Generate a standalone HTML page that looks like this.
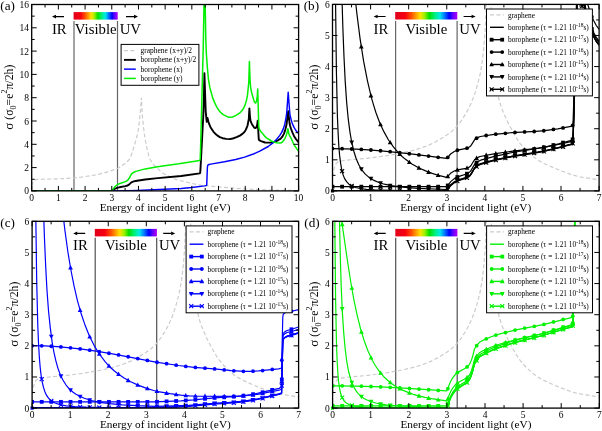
<!DOCTYPE html><html><head><meta charset="utf-8"><style>html,body{margin:0;padding:0;background:#fff;overflow:hidden}svg{display:block;will-change:transform}</style></head><body><svg width="602" height="431" viewBox="0 0 602 431"><defs><linearGradient id="rb" x1="0" x2="1" y1="0" y2="0"><stop offset="0" stop-color="#e0001c"/><stop offset="0.16" stop-color="#f80010"/><stop offset="0.26" stop-color="#ff5000"/><stop offset="0.4" stop-color="#ffe000"/><stop offset="0.47" stop-color="#a0f000"/><stop offset="0.55" stop-color="#00e000"/><stop offset="0.64" stop-color="#00f080"/><stop offset="0.72" stop-color="#00e8e8"/><stop offset="0.8" stop-color="#0070ff"/><stop offset="0.87" stop-color="#0000ff"/><stop offset="0.94" stop-color="#7000ff"/><stop offset="1" stop-color="#b000f0"/></linearGradient><clipPath id="ca"><rect x="31.70" y="4.50" width="266.90" height="186.40"/></clipPath><clipPath id="cb"><rect x="332.50" y="4.40" width="266.60" height="186.50"/></clipPath><clipPath id="cc"><rect x="32.10" y="221.30" width="266.50" height="186.80"/></clipPath><clipPath id="cd"><rect x="332.60" y="221.30" width="266.70" height="186.80"/></clipPath></defs><rect x="73.60" y="12.10" width="44.10" height="7.5" fill="url(#rb)"/><path d="M74.00,21.00V190.90M117.50,21.00V190.90" stroke="#666" stroke-width="1.2" fill="none"/><g style="font-family:'Liberation Serif',serif;font-size:14.8px" fill="#000"><text x="66.70" y="33.60" text-anchor="end">IR</text><text x="95.75" y="33.60" text-anchor="middle">Visible</text><text x="119.70" y="33.60" text-anchor="start">UV</text></g><path d="M55.50,16.60H64.00M126.00,16.60H134.50" stroke="#000" stroke-width="1.1"/><path d="M52.00,16.60l4,-1.8v3.6zM138.00,16.60l-4,-1.8v3.6z" fill="#000"/><g clip-path="url(#ca)"><path d="M31.7,185.7L33.5,181.1L34.5,180.1L35.8,179.7L39.9,179.3L61.7,178.7L74.7,177.9L81.6,177.1L95.5,174.9L104.3,172.9L110.8,170.9L115.0,169.4L117.7,168.3L119.9,167.1L125.9,162.9L128.8,160.0L129.8,158.5L130.7,156.7L132.1,152.8L134.9,143.6L136.9,136.5L138.3,129.6L139.4,121.3L140.4,111.5L141.4,97.7L142.3,114.9L143.7,128.9L144.7,136.4L146.1,144.3L147.5,150.7L148.7,155.4L149.7,158.4L150.7,160.4L151.9,162.4L153.9,164.9L156.4,167.5L160.1,170.9L162.5,172.8L165.1,174.4L171.4,177.6L177.6,180.0L197.4,184.7L201.4,185.4L235.8,188.3L250.2,189.2L270.2,190.0L298.6,190.6" stroke="#cccccc" stroke-width="1.2" stroke-dasharray="4 2.4" fill="none"/><path d="M31.7,190.9L111.6,190.9L114.5,189.0L117.0,187.9L119.3,187.3L125.4,186.1L127.6,185.5L129.0,184.6L131.4,182.4L133.8,181.4L135.5,181.0L145.2,179.5L157.7,178.1L181.2,176.0L199.7,173.4L200.2,172.7L200.5,168.6L203.2,117.5L203.9,98.1L204.4,73.1L205.7,111.3L206.7,121.9L207.5,117.9L208.9,123.4L210.5,127.2L213.5,131.8L215.3,133.7L217.2,135.4L219.8,137.1L222.7,138.2L226.2,138.9L229.6,139.1L232.8,138.5L236.6,137.2L239.9,135.6L242.4,133.9L244.2,132.2L245.6,130.2L246.6,128.0L247.6,125.3L248.8,118.9L249.4,108.4L250.0,117.1L250.6,121.1L251.8,123.9L254.0,127.3L254.5,127.8L255.4,128.1L255.8,127.9L256.4,127.1L257.2,124.8L257.7,120.6L258.7,138.3L258.8,139.5L259.2,140.1L261.0,141.1L265.0,142.5L266.0,142.6L271.4,142.5L275.0,141.7L278.0,140.3L280.7,138.6L282.3,136.7L284.0,133.6L285.3,129.6L286.5,124.8L288.2,111.3L289.6,123.3L290.1,125.7L291.1,129.0L292.7,133.2L294.1,136.2L296.4,139.7L298.6,142.4" stroke="#000" stroke-width="1.9" fill="none" stroke-linejoin="round"/><path d="M31.7,190.9L117.4,190.9L137.5,190.4L181.2,188.5L191.7,187.5L204.6,185.9L206.7,185.4L207.4,167.2L207.8,165.2L209.1,164.5L210.7,164.1L224.5,161.8L235.7,159.5L244.6,157.1L252.6,154.3L259.8,151.2L268.2,146.5L272.9,142.9L276.9,139.0L279.8,135.4L281.7,132.4L283.5,128.4L284.7,124.4L285.8,119.1L286.7,113.1L288.2,92.2L289.7,112.3L290.1,115.2L291.1,119.6L292.4,123.9L294.3,127.9L296.5,131.3L298.6,133.5" stroke="#0000ff" stroke-width="1.45" fill="none" stroke-linejoin="round"/><path d="M31.7,190.9L111.6,190.9L112.2,190.4L114.5,187.1L117.1,184.8L119.3,183.7L125.4,181.6L127.6,180.3L129.0,178.6L131.4,174.2L133.9,172.2L135.8,171.4L145.2,168.9L157.5,166.7L178.9,163.8L199.7,160.4L200.2,158.9L200.5,150.9L203.2,48.9L203.9,10.3L204.4,-39.8L205.8,39.6L206.3,52.8L207.3,66.9L208.5,79.8L209.9,87.7L212.7,97.9L214.1,101.4L215.8,105.2L217.1,107.6L218.7,110.0L220.0,111.7L221.5,113.2L223.2,114.6L225.2,115.7L227.2,116.7L229.3,117.3L230.5,117.3L232.5,117.0L236.0,115.4L239.5,113.1L240.9,111.8L242.1,110.5L244.0,107.5L245.4,104.1L246.5,100.3L247.5,95.0L248.8,82.1L249.4,61.4L250.0,79.0L250.6,87.1L251.6,92.5L254.0,100.8L254.5,102.0L255.4,103.0L255.8,102.8L256.4,101.4L257.2,97.2L257.7,89.1L258.8,126.6L259.0,128.0L259.4,129.4L260.8,131.5L263.2,134.2L265.0,136.6L266.8,138.1L271.5,141.0L273.6,141.9L276.6,142.8L280.3,143.1L281.3,142.8L282.5,141.8L283.8,140.3L285.0,138.3L286.7,134.2L287.9,128.7L288.7,133.1L289.3,135.2L291.1,138.1L294.0,144.8L298.6,151.4" stroke="#00f000" stroke-width="1.5" fill="none" stroke-linejoin="round"/></g><rect x="121.1" y="44.4" width="77.80" height="40.90" fill="#fff" stroke="#000" stroke-width="1"/><path d="M124,50.60H135.8" stroke="#cccccc" stroke-width="1.2" stroke-dasharray="4 2.4"/><text x="140.6" y="53.20" style="font-family:'Liberation Serif',serif;font-size:7.45px">graphene (x+y)/2</text><path d="M124,59.87H135.8" stroke="#000" stroke-width="1.9"/><text x="140.6" y="62.47" style="font-family:'Liberation Serif',serif;font-size:7.45px">borophene (x+y)/2</text><path d="M124,69.14H135.8" stroke="#0000ff" stroke-width="1.45"/><text x="140.6" y="71.74" style="font-family:'Liberation Serif',serif;font-size:7.45px">borophene (x)</text><path d="M124,78.41H135.8" stroke="#00f000" stroke-width="1.5"/><text x="140.6" y="81.01" style="font-family:'Liberation Serif',serif;font-size:7.45px">borophene (y)</text><path d="M31.70,190.90v-5.0M31.70,4.50v5.0M45.05,190.90v-3.0M45.05,4.50v3.0M58.39,190.90v-5.0M58.39,4.50v5.0M71.73,190.90v-3.0M71.73,4.50v3.0M85.08,190.90v-5.0M85.08,4.50v5.0M98.43,190.90v-3.0M98.43,4.50v3.0M111.77,190.90v-5.0M111.77,4.50v5.0M125.12,190.90v-3.0M125.12,4.50v3.0M138.46,190.90v-5.0M138.46,4.50v5.0M151.81,190.90v-3.0M151.81,4.50v3.0M165.15,190.90v-5.0M165.15,4.50v5.0M178.50,190.90v-3.0M178.50,4.50v3.0M191.84,190.90v-5.0M191.84,4.50v5.0M205.19,190.90v-3.0M205.19,4.50v3.0M218.53,190.90v-5.0M218.53,4.50v5.0M231.88,190.90v-3.0M231.88,4.50v3.0M245.22,190.90v-5.0M245.22,4.50v5.0M258.56,190.90v-3.0M258.56,4.50v3.0M271.91,190.90v-5.0M271.91,4.50v5.0M285.25,190.90v-3.0M285.25,4.50v3.0M298.60,190.90v-5.0M298.60,4.50v5.0M31.70,190.90h5.0M298.60,190.90h-5.0M31.70,179.25h3.0M298.60,179.25h-3.0M31.70,167.60h5.0M298.60,167.60h-5.0M31.70,155.95h3.0M298.60,155.95h-3.0M31.70,144.30h5.0M298.60,144.30h-5.0M31.70,132.65h3.0M298.60,132.65h-3.0M31.70,121.00h5.0M298.60,121.00h-5.0M31.70,109.35h3.0M298.60,109.35h-3.0M31.70,97.70h5.0M298.60,97.70h-5.0M31.70,86.05h3.0M298.60,86.05h-3.0M31.70,74.40h5.0M298.60,74.40h-5.0M31.70,62.75h3.0M298.60,62.75h-3.0M31.70,51.10h5.0M298.60,51.10h-5.0M31.70,39.45h3.0M298.60,39.45h-3.0M31.70,27.80h5.0M298.60,27.80h-5.0M31.70,16.15h3.0M298.60,16.15h-3.0M31.70,4.50h5.0M298.60,4.50h-5.0" stroke="#000" stroke-width="1" fill="none"/><rect x="31.70" y="4.50" width="266.90" height="186.40" fill="none" stroke="#000" stroke-width="1.3"/><g style="font-family:'Liberation Serif',serif;font-size:9.5px" fill="#000"><text x="31.70" y="200.70" text-anchor="middle">0</text><text x="58.39" y="200.70" text-anchor="middle">1</text><text x="85.08" y="200.70" text-anchor="middle">2</text><text x="111.77" y="200.70" text-anchor="middle">3</text><text x="138.46" y="200.70" text-anchor="middle">4</text><text x="165.15" y="200.70" text-anchor="middle">5</text><text x="191.84" y="200.70" text-anchor="middle">6</text><text x="218.53" y="200.70" text-anchor="middle">7</text><text x="245.22" y="200.70" text-anchor="middle">8</text><text x="271.91" y="200.70" text-anchor="middle">9</text><text x="298.60" y="200.70" text-anchor="middle">10</text><text x="28.90" y="194.40" text-anchor="end">0</text><text x="28.90" y="171.10" text-anchor="end">2</text><text x="28.90" y="147.80" text-anchor="end">4</text><text x="28.90" y="124.50" text-anchor="end">6</text><text x="28.90" y="101.20" text-anchor="end">8</text><text x="28.90" y="77.90" text-anchor="end">10</text><text x="28.90" y="54.60" text-anchor="end">12</text><text x="28.90" y="31.30" text-anchor="end">14</text><text x="28.90" y="8.00" text-anchor="end">16</text></g><text x="165.15" y="210.80" text-anchor="middle" style="font-family:'Liberation Serif',serif;font-size:11.3px">Energy of incident light (eV)</text><text transform="translate(13.10,97.20) rotate(-90)" text-anchor="middle" style="font-family:'Liberation Serif',serif;font-size:11.8px"><tspan font-size="13px">σ</tspan> (σ<tspan dy="3" font-size="8px">0</tspan><tspan dy="-3">=e</tspan><tspan dy="-6" font-size="8px">2</tspan><tspan dy="6">π/2h)</tspan></text><text x="0.3" y="10.2" style="font-family:'Liberation Serif',serif;font-size:13.2px">(a)</text><rect x="395.20" y="12.00" width="62.10" height="7.5" fill="url(#rb)"/><path d="M395.60,20.90V190.90M457.10,20.90V190.90" stroke="#666" stroke-width="1.2" fill="none"/><g style="font-family:'Liberation Serif',serif;font-size:14.8px" fill="#000"><text x="388.30" y="33.50" text-anchor="end">IR</text><text x="426.35" y="33.50" text-anchor="middle">Visible</text><text x="459.30" y="33.50" text-anchor="start">UV</text></g><path d="M377.10,16.50H385.60M463.60,16.50H472.10" stroke="#000" stroke-width="1.1"/><path d="M373.60,16.50l4,-1.8v3.6zM475.60,16.50l-4,-1.8v3.6z" fill="#000"/><g clip-path="url(#cb)"><path d="M332.5,176.8L333.7,170.3L335.1,165.6L336.3,163.3L337.2,162.4L338.0,161.9L341.0,161.0L345.6,160.2L367.4,158.3L378.7,156.8L389.4,155.2L399.4,153.4L409.0,151.4L414.6,150.0L420.4,148.2L427.9,145.4L433.0,143.2L439.1,139.8L446.4,135.3L451.4,131.6L455.8,127.7L458.5,124.6L461.5,120.4L465.4,114.3L468.5,108.7L471.3,102.7L473.9,96.4L476.3,89.0L478.6,80.4L480.4,72.8L481.8,64.4L483.7,49.0L485.2,29.6L489.1,-57.1L490.6,-8.2L492.0,26.3L493.6,53.8L495.4,75.8L497.1,89.5L498.1,95.2L499.0,99.5L500.5,104.7L502.1,109.2L506.9,120.4L509.9,126.4L515.0,135.6L517.9,140.4L520.4,143.9L524.2,148.4L528.4,152.5L533.5,156.8L538.2,160.2L544.1,163.5L554.2,168.0L562.2,171.2L572.0,174.8L576.1,175.9L581.3,177.1L599.1,179.9" stroke="#cccccc" stroke-width="1.2" stroke-dasharray="4 2.4" fill="none"/><path d="M332.5,190.5L446.5,190.5L447.4,189.7L450.7,185.4L454.3,182.4L457.6,180.7L466.3,177.8L469.4,176.1L470.3,175.2L471.4,173.6L474.7,167.9L478.2,165.2L480.7,164.0L494.5,160.1L512.4,156.3L537.4,152.2L545.9,150.6L558.6,147.5L572.3,143.8L572.8,142.4L573.1,139.0L574.4,98.3L577.4,-13.8L578.6,-88.8L579.6,-88.8L580.9,-19.0L581.5,-4.9L582.1,5.8L583.3,-4.4L584.8,7.2L585.8,12.8L587.2,18.9L589.7,26.9L591.5,31.8L593.6,36.4L596.3,41.2L599.1,44.9" stroke="#000" stroke-width="1.2" fill="none" stroke-linejoin="round"/><path d="M332.5,186.7L446.5,186.7L447.4,186.0L450.7,181.6L454.3,178.6L457.6,176.9L466.3,174.0L469.4,172.3L470.3,171.4L471.4,169.8L474.7,164.1L478.2,161.4L480.7,160.2L494.5,156.4L512.4,152.5L537.4,148.5L545.9,146.9L558.6,143.8L572.3,140.1L572.8,138.6L573.1,135.2L574.3,97.5L577.4,-17.5L578.5,-88.8L579.7,-88.8L580.9,-22.8L581.5,-8.7L582.1,2.1L583.3,-8.2L584.8,3.5L585.8,9.1L587.2,15.2L589.7,23.1L591.5,28.1L593.6,32.6L596.3,37.4L599.1,41.1" stroke="#000" stroke-width="1.2" fill="none" stroke-linejoin="round"/><path d="M332.5,148.6L344.3,148.8L356.2,149.2L368.4,149.9L381.2,150.8L408.7,153.7L446.5,158.4L447.4,157.8L450.6,154.0L454.3,151.5L457.5,150.2L466.4,148.3L469.4,147.0L470.3,146.3L471.4,144.9L474.7,139.6L478.0,137.4L480.4,136.5L494.1,134.4L512.1,132.6L535.9,131.4L544.6,130.7L557.8,128.8L572.2,126.2L572.8,124.8L573.1,121.4L574.1,89.6L577.3,-27.5L578.4,-88.8L579.9,-88.8L580.9,-36.0L581.5,-21.8L582.1,-11.0L583.3,-21.2L584.8,-9.4L585.8,-3.7L587.2,2.5L589.7,10.6L591.5,15.7L593.6,20.5L596.3,25.5L599.1,29.4" stroke="#000" stroke-width="1.2" fill="none" stroke-linejoin="round"/><path d="M332.5,-88.8L347.3,-88.8L350.7,-48.2L353.7,-15.3L356.9,13.7L360.1,38.8L363.6,61.2L367.4,80.6L371.4,97.6L373.6,105.1L375.8,112.2L379.7,122.7L384.0,131.9L388.5,140.0L393.6,147.2L399.1,153.6L402.1,156.5L405.2,159.1L411.9,164.0L419.5,168.2L425.6,170.9L432.2,173.4L439.6,175.7L446.6,177.3L448.0,176.2L450.5,173.3L454.2,171.0L457.4,169.9L466.1,168.4L467.9,167.8L469.3,167.1L470.3,166.3L471.4,164.8L474.7,159.5L477.9,157.4L480.1,156.5L493.9,153.8L512.8,151.1L534.9,148.7L543.9,147.4L558.6,144.4L572.0,141.3L572.4,141.0L572.9,139.0L573.4,127.5L577.1,-3.2L577.8,-37.4L578.5,-88.8L579.6,-88.8L579.7,-87.6L580.9,-21.5L581.5,-7.4L582.1,3.4L583.3,-6.9L584.8,4.8L585.8,10.4L587.2,16.5L589.7,24.6L591.5,29.6L593.6,34.1L596.3,39.0L599.1,42.8" stroke="#000" stroke-width="1.2" fill="none" stroke-linejoin="round"/><path d="M332.5,-88.8L340.3,-88.8L341.9,-4.3L342.9,28.8L344.0,57.0L345.2,81.1L346.6,101.6L348.2,118.7L350.1,133.1L351.9,143.0L353.9,151.5L356.2,158.7L358.8,164.8L361.8,169.8L365.3,174.1L369.3,177.6L374.0,180.4L378.8,182.5L384.4,184.2L391.0,185.6L398.6,186.7L407.6,187.7L418.3,188.4L446.5,189.5L447.4,188.8L450.6,184.6L454.3,181.7L457.5,180.0L466.3,177.2L469.4,175.5L470.3,174.7L471.4,173.1L474.7,167.4L478.2,164.8L480.6,163.6L494.4,159.9L512.4,156.1L537.2,152.3L545.6,150.7L558.5,147.6L572.3,143.9L572.8,142.5L573.1,139.1L574.4,98.4L577.4,-13.7L578.6,-88.8L579.6,-88.8L580.9,-18.9L581.5,-4.8L582.1,6.0L583.3,-4.3L584.8,7.4L585.8,13.0L587.2,19.0L589.7,27.0L591.5,32.0L593.6,36.5L596.3,41.3L599.1,45.0" stroke="#000" stroke-width="1.2" fill="none" stroke-linejoin="round"/><path d="M332.5,-88.8L335.0,-88.8L335.6,6.0L336.4,71.2L337.4,116.2L338.1,132.7L338.8,145.8L339.6,155.4L340.6,163.2L341.7,169.5L343.0,174.6L344.6,178.6L346.6,181.7L348.9,184.2L351.8,186.0L355.5,187.5L360.2,188.5L366.3,189.3L374.3,189.9L399.0,190.5L446.5,190.8L447.4,190.0L450.7,185.7L454.3,182.7L457.6,181.0L466.3,178.1L469.4,176.4L470.3,175.5L471.4,173.9L474.7,168.2L478.2,165.5L480.6,164.4L494.5,160.5L512.3,156.7L537.4,152.6L545.9,151.0L558.6,147.9L572.3,144.2L572.8,142.8L573.1,139.4L574.4,98.7L577.4,-13.4L578.6,-88.8L579.6,-88.8L580.9,-18.6L581.5,-4.5L582.1,6.2L583.3,-4.0L584.8,7.6L585.8,13.2L587.2,19.3L589.7,27.3L591.5,32.2L593.6,36.8L596.3,41.6L599.1,45.3" stroke="#000" stroke-width="1.2" fill="none" stroke-linejoin="round"/><rect x="330.60" y="184.77" width="3.80" height="3.80" fill="#000"/><rect x="340.21" y="184.77" width="3.80" height="3.80" fill="#000"/><rect x="349.81" y="184.77" width="3.80" height="3.80" fill="#000"/><rect x="359.42" y="184.77" width="3.80" height="3.80" fill="#000"/><rect x="369.02" y="184.77" width="3.80" height="3.80" fill="#000"/><rect x="378.62" y="184.77" width="3.80" height="3.80" fill="#000"/><rect x="388.23" y="184.78" width="3.80" height="3.80" fill="#000"/><rect x="397.84" y="184.78" width="3.80" height="3.80" fill="#000"/><rect x="407.44" y="184.78" width="3.80" height="3.80" fill="#000"/><rect x="417.05" y="184.78" width="3.80" height="3.80" fill="#000"/><rect x="426.65" y="184.78" width="3.80" height="3.80" fill="#000"/><rect x="436.25" y="184.78" width="3.80" height="3.80" fill="#000"/><rect x="445.86" y="183.55" width="3.80" height="3.80" fill="#000"/><rect x="455.47" y="175.14" width="3.80" height="3.80" fill="#000"/><rect x="465.07" y="171.78" width="3.80" height="3.80" fill="#000"/><rect x="474.68" y="160.64" width="3.80" height="3.80" fill="#000"/><rect x="484.28" y="156.68" width="3.80" height="3.80" fill="#000"/><rect x="493.88" y="154.14" width="3.80" height="3.80" fill="#000"/><rect x="503.49" y="152.11" width="3.80" height="3.80" fill="#000"/><rect x="513.10" y="150.09" width="3.80" height="3.80" fill="#000"/><rect x="522.70" y="148.56" width="3.80" height="3.80" fill="#000"/><rect x="532.31" y="147.10" width="3.80" height="3.80" fill="#000"/><rect x="541.91" y="145.39" width="3.80" height="3.80" fill="#000"/><rect x="551.51" y="143.17" width="3.80" height="3.80" fill="#000"/><rect x="561.12" y="140.72" width="3.80" height="3.80" fill="#000"/><rect x="570.73" y="137.44" width="3.80" height="3.80" fill="#000"/><rect x="580.33" y="0.08" width="3.80" height="3.80" fill="#000"/><rect x="589.94" y="27.07" width="3.80" height="3.80" fill="#000"/><circle cx="332.50" cy="148.62" r="1.90" fill="#000"/><circle cx="342.11" cy="148.71" r="1.90" fill="#000"/><circle cx="351.71" cy="148.98" r="1.90" fill="#000"/><circle cx="361.31" cy="149.42" r="1.90" fill="#000"/><circle cx="370.92" cy="150.02" r="1.90" fill="#000"/><circle cx="380.52" cy="150.77" r="1.90" fill="#000"/><circle cx="390.13" cy="151.65" r="1.90" fill="#000"/><circle cx="399.74" cy="152.65" r="1.90" fill="#000"/><circle cx="409.34" cy="153.73" r="1.90" fill="#000"/><circle cx="418.94" cy="154.89" r="1.90" fill="#000"/><circle cx="428.55" cy="156.10" r="1.90" fill="#000"/><circle cx="438.15" cy="157.34" r="1.90" fill="#000"/><circle cx="447.76" cy="157.38" r="1.90" fill="#000"/><circle cx="457.37" cy="150.24" r="1.90" fill="#000"/><circle cx="466.97" cy="148.14" r="1.90" fill="#000"/><circle cx="476.58" cy="138.25" r="1.90" fill="#000"/><circle cx="486.18" cy="135.51" r="1.90" fill="#000"/><circle cx="495.78" cy="134.16" r="1.90" fill="#000"/><circle cx="505.39" cy="133.28" r="1.90" fill="#000"/><circle cx="515.00" cy="132.38" r="1.90" fill="#000"/><circle cx="524.60" cy="131.92" r="1.90" fill="#000"/><circle cx="534.21" cy="131.48" r="1.90" fill="#000"/><circle cx="543.81" cy="130.75" r="1.90" fill="#000"/><circle cx="553.41" cy="129.46" r="1.90" fill="#000"/><circle cx="563.02" cy="127.90" r="1.90" fill="#000"/><circle cx="572.62" cy="125.47" r="1.90" fill="#000"/><circle cx="591.84" cy="16.66" r="1.90" fill="#000"/><path d="M358.94,48.58L363.69,48.58L361.31,44.19Z" fill="#000"/><path d="M368.55,97.42L373.30,97.42L370.92,93.03Z" fill="#000"/><path d="M378.15,126.33L382.90,126.33L380.52,121.94Z" fill="#000"/><path d="M387.75,144.29L392.50,144.29L390.13,139.89Z" fill="#000"/><path d="M397.36,156.01L402.11,156.01L399.74,151.62Z" fill="#000"/><path d="M406.97,164.02L411.72,164.02L409.34,159.63Z" fill="#000"/><path d="M416.57,169.71L421.32,169.71L418.94,165.32Z" fill="#000"/><path d="M426.18,173.88L430.93,173.88L428.55,169.49Z" fill="#000"/><path d="M435.78,177.02L440.53,177.02L438.15,172.63Z" fill="#000"/><path d="M445.38,178.21L450.13,178.21L447.76,173.82Z" fill="#000"/><path d="M454.99,171.71L459.74,171.71L457.37,167.31Z" fill="#000"/><path d="M464.60,169.87L469.35,169.87L466.97,165.47Z" fill="#000"/><path d="M474.20,159.96L478.95,159.96L476.58,155.57Z" fill="#000"/><path d="M483.81,157.01L488.56,157.01L486.18,152.62Z" fill="#000"/><path d="M493.41,155.33L498.16,155.33L495.78,150.93Z" fill="#000"/><path d="M503.01,154.00L507.76,154.00L505.39,149.61Z" fill="#000"/><path d="M512.62,152.59L517.37,152.59L515.00,148.20Z" fill="#000"/><path d="M522.23,151.57L526.98,151.57L524.60,147.18Z" fill="#000"/><path d="M531.83,150.55L536.58,150.55L534.21,146.16Z" fill="#000"/><path d="M541.43,149.23L546.18,149.23L543.81,144.84Z" fill="#000"/><path d="M551.04,147.34L555.79,147.34L553.41,142.95Z" fill="#000"/><path d="M560.64,145.19L565.39,145.19L563.02,140.79Z" fill="#000"/><path d="M570.25,142.17L575.00,142.17L572.62,137.78Z" fill="#000"/><path d="M579.86,5.04L584.61,5.04L582.23,0.64Z" fill="#000"/><path d="M589.46,32.23L594.21,32.23L591.84,27.84Z" fill="#000"/><path d="M339.73,1.13L344.48,1.13L342.11,5.52Z" fill="#000"/><path d="M349.33,140.50L354.08,140.50L351.71,144.89Z" fill="#000"/><path d="M358.94,167.37L363.69,167.37L361.31,171.77Z" fill="#000"/><path d="M368.55,176.86L373.30,176.86L370.92,181.25Z" fill="#000"/><path d="M378.15,181.26L382.90,181.26L380.52,185.66Z" fill="#000"/><path d="M387.75,183.66L392.50,183.66L390.13,188.05Z" fill="#000"/><path d="M397.36,185.11L402.11,185.11L399.74,189.50Z" fill="#000"/><path d="M406.97,186.05L411.72,186.05L409.34,190.44Z" fill="#000"/><path d="M416.57,186.69L421.32,186.69L418.94,191.09Z" fill="#000"/><path d="M426.18,187.15L430.93,187.15L428.55,191.55Z" fill="#000"/><path d="M435.78,187.49L440.53,187.49L438.15,191.89Z" fill="#000"/><path d="M445.38,186.52L450.13,186.52L447.76,190.91Z" fill="#000"/><path d="M454.99,178.31L459.74,178.31L457.37,182.70Z" fill="#000"/><path d="M464.60,175.11L469.35,175.11L466.97,179.50Z" fill="#000"/><path d="M474.20,164.09L478.95,164.09L476.58,168.49Z" fill="#000"/><path d="M483.81,160.23L488.56,160.23L486.18,164.63Z" fill="#000"/><path d="M493.41,157.78L498.16,157.78L495.78,162.18Z" fill="#000"/><path d="M503.01,155.82L507.76,155.82L505.39,160.21Z" fill="#000"/><path d="M512.62,153.86L517.37,153.86L515.00,158.26Z" fill="#000"/><path d="M522.23,152.38L526.98,152.38L524.60,156.77Z" fill="#000"/><path d="M531.83,150.96L536.58,150.96L534.21,155.35Z" fill="#000"/><path d="M541.43,149.29L546.18,149.29L543.81,153.69Z" fill="#000"/><path d="M551.04,147.10L555.79,147.10L553.41,151.49Z" fill="#000"/><path d="M560.64,144.67L565.39,144.67L563.02,149.06Z" fill="#000"/><path d="M570.25,141.42L575.00,141.42L572.62,145.81Z" fill="#000"/><path d="M579.86,4.07L584.61,4.07L582.23,8.47Z" fill="#000"/><path d="M589.46,31.08L594.21,31.08L591.84,35.48Z" fill="#000"/><path d="M340.11,169.24L344.10,173.23M340.11,173.23L344.10,169.24" stroke="#000" stroke-width="1.1" fill="none"/><path d="M349.71,183.99L353.70,187.98M349.71,187.98L353.70,183.99" stroke="#000" stroke-width="1.1" fill="none"/><path d="M359.32,186.72L363.31,190.71M359.32,190.71L363.31,186.72" stroke="#000" stroke-width="1.1" fill="none"/><path d="M368.93,187.68L372.92,191.67M368.93,191.67L372.92,187.68" stroke="#000" stroke-width="1.1" fill="none"/><path d="M378.53,188.12L382.52,192.11M378.53,192.11L382.52,188.12" stroke="#000" stroke-width="1.1" fill="none"/><path d="M388.13,188.36L392.12,192.35M388.13,192.35L392.12,188.36" stroke="#000" stroke-width="1.1" fill="none"/><path d="M397.74,188.50L401.73,192.49M397.74,192.49L401.73,188.50" stroke="#000" stroke-width="1.1" fill="none"/><path d="M407.35,188.60L411.34,192.59M407.35,192.59L411.34,188.60" stroke="#000" stroke-width="1.1" fill="none"/><path d="M416.95,188.66L420.94,192.65M416.95,192.65L420.94,188.66" stroke="#000" stroke-width="1.1" fill="none"/><path d="M426.56,188.71L430.55,192.70M426.56,192.70L430.55,188.71" stroke="#000" stroke-width="1.1" fill="none"/><path d="M436.16,188.74L440.15,192.73M436.16,192.73L440.15,188.74" stroke="#000" stroke-width="1.1" fill="none"/><path d="M445.76,187.54L449.75,191.53M445.76,191.53L449.75,187.54" stroke="#000" stroke-width="1.1" fill="none"/><path d="M455.37,179.14L459.36,183.13M455.37,183.13L459.36,179.14" stroke="#000" stroke-width="1.1" fill="none"/><path d="M464.98,175.80L468.97,179.79M464.98,179.79L468.97,175.80" stroke="#000" stroke-width="1.1" fill="none"/><path d="M474.58,164.67L478.57,168.66M474.58,168.66L478.57,164.67" stroke="#000" stroke-width="1.1" fill="none"/><path d="M484.19,160.71L488.18,164.70M484.19,164.70L488.18,160.71" stroke="#000" stroke-width="1.1" fill="none"/><path d="M493.79,158.18L497.78,162.17M493.79,162.17L497.78,158.18" stroke="#000" stroke-width="1.1" fill="none"/><path d="M503.39,156.15L507.38,160.14M503.39,160.14L507.38,156.15" stroke="#000" stroke-width="1.1" fill="none"/><path d="M513.00,154.14L516.99,158.13M513.00,158.13L516.99,154.14" stroke="#000" stroke-width="1.1" fill="none"/><path d="M522.61,152.61L526.60,156.60M522.61,156.60L526.60,152.61" stroke="#000" stroke-width="1.1" fill="none"/><path d="M532.21,151.15L536.20,155.14M532.21,155.14L536.20,151.15" stroke="#000" stroke-width="1.1" fill="none"/><path d="M541.81,149.44L545.80,153.43M541.81,153.43L545.80,149.44" stroke="#000" stroke-width="1.1" fill="none"/><path d="M551.42,147.22L555.41,151.21M551.42,151.21L555.41,147.22" stroke="#000" stroke-width="1.1" fill="none"/><path d="M561.02,144.76L565.01,148.75M561.02,148.75L565.01,144.76" stroke="#000" stroke-width="1.1" fill="none"/><path d="M570.63,141.49L574.62,145.48M570.63,145.48L574.62,141.49" stroke="#000" stroke-width="1.1" fill="none"/><path d="M580.24,4.12L584.23,8.11M580.24,8.11L584.23,4.12" stroke="#000" stroke-width="1.1" fill="none"/><path d="M589.84,31.11L593.83,35.10M589.84,35.10L593.83,31.11" stroke="#000" stroke-width="1.1" fill="none"/></g><rect x="330.90" y="189.30" width="3.2" height="3.2" fill="#000"/><rect x="486.50" y="9.00" width="105.90" height="86.90" fill="#fff" stroke="#000" stroke-width="1"/><path d="M490.00,14.90H503.80" stroke="#cccccc" stroke-width="1.2" stroke-dasharray="4 2.4"/><text x="508.00" y="17.50" style="font-family:'Liberation Serif',serif;font-size:7.35px">graphene</text><path d="M490.00,27.30H503.80" stroke="#000" stroke-width="1.4"/><text x="508.00" y="29.90" style="font-family:'Liberation Serif',serif;font-size:7.35px">borophene (τ = 1.21 10<tspan dy="-3" font-size="5.5px">-18</tspan><tspan dy="3">s)</tspan></text><path d="M490.00,39.70H503.80" stroke="#000" stroke-width="1.4"/><rect x="489.70" y="37.80" width="3.80" height="3.80" fill="#000"/><rect x="500.30" y="37.80" width="3.80" height="3.80" fill="#000"/><text x="508.00" y="42.30" style="font-family:'Liberation Serif',serif;font-size:7.35px">borophene (τ = 1.21 10<tspan dy="-3" font-size="5.5px">-17</tspan><tspan dy="3">s)</tspan></text><path d="M490.00,52.10H503.80" stroke="#000" stroke-width="1.4"/><circle cx="491.60" cy="52.10" r="1.90" fill="#000"/><circle cx="502.20" cy="52.10" r="1.90" fill="#000"/><text x="508.00" y="54.70" style="font-family:'Liberation Serif',serif;font-size:7.35px">borophene (τ = 1.21 10<tspan dy="-3" font-size="5.5px">-16</tspan><tspan dy="3">s)</tspan></text><path d="M490.00,64.50H503.80" stroke="#000" stroke-width="1.4"/><path d="M489.23,66.28L493.98,66.28L491.60,61.89Z" fill="#000"/><path d="M499.82,66.28L504.57,66.28L502.20,61.89Z" fill="#000"/><text x="508.00" y="67.10" style="font-family:'Liberation Serif',serif;font-size:7.35px">borophene (τ = 1.21 10<tspan dy="-3" font-size="5.5px">-15</tspan><tspan dy="3">s)</tspan></text><path d="M490.00,76.90H503.80" stroke="#000" stroke-width="1.4"/><path d="M489.23,75.12L493.98,75.12L491.60,79.51Z" fill="#000"/><path d="M499.82,75.12L504.57,75.12L502.20,79.51Z" fill="#000"/><text x="508.00" y="79.50" style="font-family:'Liberation Serif',serif;font-size:7.35px">borophene (τ = 1.21 10<tspan dy="-3" font-size="5.5px">-14</tspan><tspan dy="3">s)</tspan></text><path d="M490.00,89.30H503.80" stroke="#000" stroke-width="1.4"/><path d="M489.61,87.31L493.60,91.30M489.61,91.30L493.60,87.31" stroke="#000" stroke-width="1.1" fill="none"/><path d="M500.20,87.31L504.19,91.30M500.20,91.30L504.19,87.31" stroke="#000" stroke-width="1.1" fill="none"/><text x="508.00" y="91.90" style="font-family:'Liberation Serif',serif;font-size:7.35px">borophene (τ = 1.21 10<tspan dy="-3" font-size="5.5px">-13</tspan><tspan dy="3">s)</tspan></text><path d="M332.50,190.90v-5.0M332.50,4.40v5.0M351.54,190.90v-3.0M351.54,4.40v3.0M370.59,190.90v-5.0M370.59,4.40v5.0M389.63,190.90v-3.0M389.63,4.40v3.0M408.67,190.90v-5.0M408.67,4.40v5.0M427.71,190.90v-3.0M427.71,4.40v3.0M446.76,190.90v-5.0M446.76,4.40v5.0M465.80,190.90v-3.0M465.80,4.40v3.0M484.84,190.90v-5.0M484.84,4.40v5.0M503.89,190.90v-3.0M503.89,4.40v3.0M522.93,190.90v-5.0M522.93,4.40v5.0M541.97,190.90v-3.0M541.97,4.40v3.0M561.01,190.90v-5.0M561.01,4.40v5.0M580.06,190.90v-3.0M580.06,4.40v3.0M599.10,190.90v-5.0M599.10,4.40v5.0M332.50,190.90h5.0M599.10,190.90h-5.0M332.50,175.36h3.0M599.10,175.36h-3.0M332.50,159.82h5.0M599.10,159.82h-5.0M332.50,144.28h3.0M599.10,144.28h-3.0M332.50,128.73h5.0M599.10,128.73h-5.0M332.50,113.19h3.0M599.10,113.19h-3.0M332.50,97.65h5.0M599.10,97.65h-5.0M332.50,82.11h3.0M599.10,82.11h-3.0M332.50,66.57h5.0M599.10,66.57h-5.0M332.50,51.03h3.0M599.10,51.03h-3.0M332.50,35.48h5.0M599.10,35.48h-5.0M332.50,19.94h3.0M599.10,19.94h-3.0M332.50,4.40h5.0M599.10,4.40h-5.0" stroke="#000" stroke-width="1" fill="none"/><rect x="332.50" y="4.40" width="266.60" height="186.50" fill="none" stroke="#000" stroke-width="1.3"/><g style="font-family:'Liberation Serif',serif;font-size:9.5px" fill="#000"><text x="332.50" y="200.70" text-anchor="middle">0</text><text x="370.59" y="200.70" text-anchor="middle">1</text><text x="408.67" y="200.70" text-anchor="middle">2</text><text x="446.76" y="200.70" text-anchor="middle">3</text><text x="484.84" y="200.70" text-anchor="middle">4</text><text x="522.93" y="200.70" text-anchor="middle">5</text><text x="561.01" y="200.70" text-anchor="middle">6</text><text x="599.10" y="200.70" text-anchor="middle">7</text><text x="329.70" y="194.40" text-anchor="end">0</text><text x="329.70" y="163.32" text-anchor="end">1</text><text x="329.70" y="132.23" text-anchor="end">2</text><text x="329.70" y="101.15" text-anchor="end">3</text><text x="329.70" y="70.07" text-anchor="end">4</text><text x="329.70" y="38.98" text-anchor="end">5</text><text x="329.70" y="7.90" text-anchor="end">6</text></g><text x="465.80" y="210.80" text-anchor="middle" style="font-family:'Liberation Serif',serif;font-size:11.3px">Energy of incident light (eV)</text><text transform="translate(317.90,97.15) rotate(-90)" text-anchor="middle" style="font-family:'Liberation Serif',serif;font-size:11.8px"><tspan font-size="13px">σ</tspan> (σ<tspan dy="3" font-size="8px">0</tspan><tspan dy="-3">=e</tspan><tspan dy="-6" font-size="8px">2</tspan><tspan dy="6">π/2h)</tspan></text><text x="303.7" y="10.2" style="font-family:'Liberation Serif',serif;font-size:13.2px">(b)</text><rect x="94.80" y="228.90" width="62.10" height="7.5" fill="url(#rb)"/><path d="M95.20,237.80V408.10M156.70,237.80V408.10" stroke="#505050" stroke-width="1.2" fill="none"/><g style="font-family:'Liberation Serif',serif;font-size:14.8px" fill="#000"><text x="87.90" y="250.40" text-anchor="end">IR</text><text x="125.95" y="250.40" text-anchor="middle">Visible</text><text x="158.90" y="250.40" text-anchor="start">UV</text></g><path d="M76.70,233.40H85.20M163.20,233.40H171.70" stroke="#000" stroke-width="1.1"/><path d="M73.20,233.40l4,-1.8v3.6zM175.20,233.40l-4,-1.8v3.6z" fill="#000"/><g clip-path="url(#cc)"><path d="M32.1,394.0L33.3,387.4L34.7,382.7L35.9,380.5L36.8,379.6L37.6,379.1L40.6,378.1L45.2,377.4L67.0,375.4L78.3,374.0L89.0,372.3L99.0,370.5L108.6,368.5L114.2,367.1L119.9,365.3L127.5,362.6L132.5,360.3L138.7,356.9L145.9,352.4L151.0,348.7L155.4,344.8L158.0,341.7L161.1,337.5L165.0,331.4L168.0,325.8L170.9,319.7L173.4,313.4L175.8,306.0L178.2,297.4L179.9,289.8L181.4,281.4L183.2,266.0L184.8,246.5L188.6,159.7L190.1,208.6L191.5,243.2L193.1,270.7L194.9,292.9L196.6,306.6L197.6,312.2L198.6,316.6L200.0,321.7L201.6,326.2L206.4,337.5L209.4,343.5L214.5,352.7L217.4,357.5L220.0,361.0L223.8,365.5L227.9,369.6L233.0,374.0L237.7,377.4L243.6,380.6L253.8,385.2L261.7,388.4L271.5,392.0L275.6,393.1L280.8,394.2L298.6,397.0" stroke="#cccccc" stroke-width="1.2" stroke-dasharray="4 2.4" fill="none"/><path d="M32.1,407.5L154.3,407.5L180.7,406.3L193.7,405.5L214.5,403.5L233.4,402.2L244.2,401.1L250.4,400.2L258.2,398.8L279.1,393.9L281.6,392.9L282.7,345.1L282.8,341.7L283.2,338.9L285.0,337.2L287.1,336.0L292.5,334.5L298.6,332.5" stroke="#0000ff" stroke-width="1.2" fill="none" stroke-linejoin="round"/><path d="M32.1,401.9L154.3,401.9L180.8,400.8L193.7,399.9L214.5,397.9L233.4,396.7L244.2,395.6L250.4,394.7L258.2,393.2L279.1,388.4L281.6,387.3L282.7,339.5L282.8,336.2L283.2,333.4L285.0,331.6L287.1,330.5L292.5,329.0L298.6,327.0" stroke="#0000ff" stroke-width="1.2" fill="none" stroke-linejoin="round"/><path d="M32.1,345.7L44.6,345.9L57.2,346.6L70.2,347.8L83.9,349.4L97.5,351.4L112.5,353.9L155.8,362.1L178.6,365.5L194.1,367.4L214.1,368.9L231.6,370.6L244.6,371.3L250.8,371.3L258.5,370.9L278.7,368.8L281.6,368.0L282.7,320.4L282.8,317.0L283.2,314.3L285.0,312.7L287.1,311.8L292.5,311.0L298.6,309.6" stroke="#0000ff" stroke-width="1.2" fill="none" stroke-linejoin="round"/><path d="M32.1,127.9L55.0,127.9L57.5,158.5L59.9,185.4L62.4,209.6L65.1,231.8L67.9,252.0L70.9,270.0L74.1,286.2L77.5,300.8L81.2,313.8L85.2,325.6L89.5,336.2L94.2,345.6L99.3,354.0L104.9,361.4L107.9,364.8L111.1,368.0L114.4,371.0L117.9,373.8L124.1,378.0L130.7,381.8L138.1,385.1L146.0,388.1L153.6,390.5L158.2,391.6L170.1,393.7L180.7,395.1L189.4,395.8L197.1,396.1L229.0,396.4L240.8,396.1L248.3,395.5L257.5,394.3L279.1,390.2L281.6,389.2L282.7,341.4L282.8,338.1L283.2,335.3L285.0,333.6L287.1,332.5L292.5,331.2L298.6,329.3" stroke="#0000ff" stroke-width="1.2" fill="none" stroke-linejoin="round"/><path d="M32.1,127.9L41.7,127.9L43.4,207.0L44.5,239.1L45.7,266.7L47.0,290.5L48.5,310.7L50.3,327.9L52.2,342.6L53.9,352.2L55.8,360.6L57.9,368.1L60.2,374.5L62.9,380.0L65.9,384.8L69.3,388.8L73.1,392.3L75.6,394.0L78.3,395.6L84.3,398.3L91.4,400.5L99.9,402.3L109.9,403.7L122.1,404.8L137.1,405.7L155.0,406.3L175.3,405.9L188.8,405.4L213.9,403.3L229.5,402.5L240.0,401.6L247.8,400.7L257.2,399.1L278.9,394.2L281.6,393.1L282.7,345.3L282.8,341.9L283.2,339.1L285.0,337.4L287.1,336.2L292.5,334.7L298.6,332.7" stroke="#0000ff" stroke-width="1.2" fill="none" stroke-linejoin="round"/><path d="M32.1,127.9L35.2,127.9L35.8,216.8L36.7,281.2L37.8,325.8L38.5,342.8L39.3,356.6L40.1,366.5L41.0,374.6L42.1,381.5L43.4,387.1L44.9,391.7L46.6,395.4L48.7,398.4L51.2,400.8L53.0,402.0L55.0,403.0L59.9,404.6L66.3,405.8L74.8,406.6L86.2,407.2L102.1,407.6L155.6,407.9L176.5,407.1L189.1,406.3L213.8,404.1L229.9,403.1L241.2,402.1L248.5,401.1L257.5,399.5L279.0,394.5L281.6,393.4L282.7,345.6L282.8,342.3L283.2,339.5L285.0,337.7L287.1,336.6L292.5,335.1L298.6,333.1" stroke="#0000ff" stroke-width="1.2" fill="none" stroke-linejoin="round"/><rect x="30.20" y="399.96" width="3.80" height="3.80" fill="#0000ff"/><rect x="39.81" y="399.96" width="3.80" height="3.80" fill="#0000ff"/><rect x="49.41" y="399.96" width="3.80" height="3.80" fill="#0000ff"/><rect x="59.02" y="399.96" width="3.80" height="3.80" fill="#0000ff"/><rect x="68.62" y="399.96" width="3.80" height="3.80" fill="#0000ff"/><rect x="78.23" y="399.97" width="3.80" height="3.80" fill="#0000ff"/><rect x="87.83" y="399.97" width="3.80" height="3.80" fill="#0000ff"/><rect x="97.44" y="399.97" width="3.80" height="3.80" fill="#0000ff"/><rect x="107.04" y="399.97" width="3.80" height="3.80" fill="#0000ff"/><rect x="116.65" y="399.97" width="3.80" height="3.80" fill="#0000ff"/><rect x="126.25" y="399.98" width="3.80" height="3.80" fill="#0000ff"/><rect x="135.86" y="399.98" width="3.80" height="3.80" fill="#0000ff"/><rect x="145.46" y="399.98" width="3.80" height="3.80" fill="#0000ff"/><rect x="155.07" y="399.91" width="3.80" height="3.80" fill="#0000ff"/><rect x="164.67" y="399.48" width="3.80" height="3.80" fill="#0000ff"/><rect x="174.28" y="399.09" width="3.80" height="3.80" fill="#0000ff"/><rect x="183.88" y="398.56" width="3.80" height="3.80" fill="#0000ff"/><rect x="193.49" y="397.84" width="3.80" height="3.80" fill="#0000ff"/><rect x="203.09" y="396.89" width="3.80" height="3.80" fill="#0000ff"/><rect x="212.70" y="395.98" width="3.80" height="3.80" fill="#0000ff"/><rect x="222.30" y="395.40" width="3.80" height="3.80" fill="#0000ff"/><rect x="231.91" y="394.75" width="3.80" height="3.80" fill="#0000ff"/><rect x="241.51" y="393.80" width="3.80" height="3.80" fill="#0000ff"/><rect x="251.12" y="392.32" width="3.80" height="3.80" fill="#0000ff"/><rect x="260.72" y="390.35" width="3.80" height="3.80" fill="#0000ff"/><rect x="270.33" y="387.98" width="3.80" height="3.80" fill="#0000ff"/><rect x="279.93" y="377.55" width="3.80" height="3.80" fill="#0000ff"/><rect x="289.54" y="327.38" width="3.80" height="3.80" fill="#0000ff"/><circle cx="32.10" cy="345.72" r="1.90" fill="#0000ff"/><circle cx="41.71" cy="345.85" r="1.90" fill="#0000ff"/><circle cx="51.31" cy="346.25" r="1.90" fill="#0000ff"/><circle cx="60.92" cy="346.90" r="1.90" fill="#0000ff"/><circle cx="70.52" cy="347.79" r="1.90" fill="#0000ff"/><circle cx="80.13" cy="348.90" r="1.90" fill="#0000ff"/><circle cx="89.73" cy="350.20" r="1.90" fill="#0000ff"/><circle cx="99.34" cy="351.67" r="1.90" fill="#0000ff"/><circle cx="108.94" cy="353.27" r="1.90" fill="#0000ff"/><circle cx="118.55" cy="354.97" r="1.90" fill="#0000ff"/><circle cx="128.15" cy="356.76" r="1.90" fill="#0000ff"/><circle cx="137.76" cy="358.60" r="1.90" fill="#0000ff"/><circle cx="147.36" cy="360.47" r="1.90" fill="#0000ff"/><circle cx="156.97" cy="362.27" r="1.90" fill="#0000ff"/><circle cx="166.57" cy="363.71" r="1.90" fill="#0000ff"/><circle cx="176.18" cy="365.16" r="1.90" fill="#0000ff"/><circle cx="185.78" cy="366.43" r="1.90" fill="#0000ff"/><circle cx="195.39" cy="367.47" r="1.90" fill="#0000ff"/><circle cx="204.99" cy="368.22" r="1.90" fill="#0000ff"/><circle cx="214.60" cy="368.96" r="1.90" fill="#0000ff"/><circle cx="224.20" cy="369.96" r="1.90" fill="#0000ff"/><circle cx="233.81" cy="370.81" r="1.90" fill="#0000ff"/><circle cx="243.41" cy="371.31" r="1.90" fill="#0000ff"/><circle cx="253.02" cy="371.21" r="1.90" fill="#0000ff"/><circle cx="262.62" cy="370.55" r="1.90" fill="#0000ff"/><circle cx="272.23" cy="369.43" r="1.90" fill="#0000ff"/><circle cx="281.83" cy="360.17" r="1.90" fill="#0000ff"/><circle cx="291.44" cy="311.13" r="1.90" fill="#0000ff"/><path d="M68.15,269.42L72.90,269.42L70.52,265.03Z" fill="#0000ff"/><path d="M77.75,312.06L82.50,312.06L80.13,307.67Z" fill="#0000ff"/><path d="M87.36,338.53L92.11,338.53L89.73,334.14Z" fill="#0000ff"/><path d="M96.96,355.82L101.71,355.82L99.34,351.43Z" fill="#0000ff"/><path d="M106.57,367.63L111.32,367.63L108.94,363.24Z" fill="#0000ff"/><path d="M116.17,376.02L120.92,376.02L118.55,371.62Z" fill="#0000ff"/><path d="M125.78,382.17L130.53,382.17L128.15,377.77Z" fill="#0000ff"/><path d="M135.38,386.80L140.13,386.80L137.76,382.40Z" fill="#0000ff"/><path d="M144.99,390.37L149.74,390.37L147.36,385.98Z" fill="#0000ff"/><path d="M154.59,393.10L159.34,393.10L156.97,388.71Z" fill="#0000ff"/><path d="M164.20,394.92L168.95,394.92L166.57,390.52Z" fill="#0000ff"/><path d="M173.80,396.35L178.55,396.35L176.18,391.95Z" fill="#0000ff"/><path d="M183.41,397.32L188.16,397.32L185.78,392.92Z" fill="#0000ff"/><path d="M193.01,397.85L197.76,397.85L195.39,393.45Z" fill="#0000ff"/><path d="M202.62,397.94L207.37,397.94L204.99,393.54Z" fill="#0000ff"/><path d="M212.22,397.92L216.97,397.92L214.60,393.53Z" fill="#0000ff"/><path d="M221.83,398.10L226.58,398.10L224.20,393.71Z" fill="#0000ff"/><path d="M231.43,398.10L236.18,398.10L233.81,393.71Z" fill="#0000ff"/><path d="M241.04,397.72L245.79,397.72L243.41,393.32Z" fill="#0000ff"/><path d="M250.64,396.73L255.39,396.73L253.02,392.34Z" fill="#0000ff"/><path d="M260.25,395.20L265.00,395.20L262.62,390.80Z" fill="#0000ff"/><path d="M269.85,393.21L274.60,393.21L272.23,388.82Z" fill="#0000ff"/><path d="M279.46,383.12L284.21,383.12L281.83,378.72Z" fill="#0000ff"/><path d="M289.06,333.25L293.81,333.25L291.44,328.86Z" fill="#0000ff"/><path d="M48.94,334.64L53.69,334.64L51.31,339.04Z" fill="#0000ff"/><path d="M58.54,374.26L63.29,374.26L60.92,378.65Z" fill="#0000ff"/><path d="M68.15,388.24L72.90,388.24L70.52,392.64Z" fill="#0000ff"/><path d="M77.75,394.74L82.50,394.74L80.13,399.13Z" fill="#0000ff"/><path d="M87.36,398.27L92.11,398.27L89.73,402.67Z" fill="#0000ff"/><path d="M96.96,400.41L101.71,400.41L99.34,404.80Z" fill="#0000ff"/><path d="M106.57,401.79L111.32,401.79L108.94,406.18Z" fill="#0000ff"/><path d="M116.17,402.74L120.92,402.74L118.55,407.13Z" fill="#0000ff"/><path d="M125.78,403.42L130.53,403.42L128.15,407.81Z" fill="#0000ff"/><path d="M135.38,403.92L140.13,403.92L137.76,408.32Z" fill="#0000ff"/><path d="M144.99,404.31L149.74,404.31L147.36,408.70Z" fill="#0000ff"/><path d="M154.59,404.52L159.34,404.52L156.97,408.92Z" fill="#0000ff"/><path d="M164.20,404.33L168.95,404.33L166.57,408.73Z" fill="#0000ff"/><path d="M173.80,404.12L178.55,404.12L176.18,408.52Z" fill="#0000ff"/><path d="M183.41,403.75L188.16,403.75L185.78,408.14Z" fill="#0000ff"/><path d="M193.01,403.16L197.76,403.16L195.39,407.55Z" fill="#0000ff"/><path d="M202.62,402.31L207.37,402.31L204.99,406.70Z" fill="#0000ff"/><path d="M212.22,401.49L216.97,401.49L214.60,405.88Z" fill="#0000ff"/><path d="M221.83,400.98L226.58,400.98L224.20,405.38Z" fill="#0000ff"/><path d="M231.43,400.39L236.18,400.39L233.81,404.78Z" fill="#0000ff"/><path d="M241.04,399.49L245.79,399.49L243.41,403.89Z" fill="#0000ff"/><path d="M250.64,398.06L255.39,398.06L253.02,402.45Z" fill="#0000ff"/><path d="M260.25,396.13L265.00,396.13L262.62,400.52Z" fill="#0000ff"/><path d="M269.85,393.79L274.60,393.79L272.23,398.18Z" fill="#0000ff"/><path d="M279.46,383.39L284.21,383.39L281.83,387.78Z" fill="#0000ff"/><path d="M289.06,333.24L293.81,333.24L291.44,337.64Z" fill="#0000ff"/><path d="M39.71,377.11L43.70,381.10M39.71,381.10L43.70,377.11" stroke="#0000ff" stroke-width="1.1" fill="none"/><path d="M49.32,398.85L53.30,402.84M49.32,402.84L53.30,398.85" stroke="#0000ff" stroke-width="1.1" fill="none"/><path d="M58.92,402.88L62.91,406.87M58.92,406.87L62.91,402.88" stroke="#0000ff" stroke-width="1.1" fill="none"/><path d="M68.53,404.29L72.52,408.28M68.53,408.28L72.52,404.29" stroke="#0000ff" stroke-width="1.1" fill="none"/><path d="M78.13,404.94L82.12,408.93M78.13,408.93L82.12,404.94" stroke="#0000ff" stroke-width="1.1" fill="none"/><path d="M87.73,405.30L91.73,409.29M87.73,409.29L91.73,405.30" stroke="#0000ff" stroke-width="1.1" fill="none"/><path d="M97.34,405.51L101.33,409.50M97.34,409.50L101.33,405.51" stroke="#0000ff" stroke-width="1.1" fill="none"/><path d="M106.95,405.65L110.94,409.64M106.95,409.64L110.94,405.65" stroke="#0000ff" stroke-width="1.1" fill="none"/><path d="M116.55,405.75L120.54,409.74M116.55,409.74L120.54,405.75" stroke="#0000ff" stroke-width="1.1" fill="none"/><path d="M126.16,405.81L130.15,409.80M126.16,409.80L130.15,405.81" stroke="#0000ff" stroke-width="1.1" fill="none"/><path d="M135.76,405.87L139.75,409.86M135.76,409.86L139.75,405.87" stroke="#0000ff" stroke-width="1.1" fill="none"/><path d="M145.37,405.90L149.36,409.89M145.37,409.89L149.36,405.90" stroke="#0000ff" stroke-width="1.1" fill="none"/><path d="M154.97,405.85L158.96,409.84M154.97,409.84L158.96,405.85" stroke="#0000ff" stroke-width="1.1" fill="none"/><path d="M164.58,405.45L168.57,409.44M164.58,409.44L168.57,405.45" stroke="#0000ff" stroke-width="1.1" fill="none"/><path d="M174.18,405.07L178.17,409.06M174.18,409.06L178.17,405.07" stroke="#0000ff" stroke-width="1.1" fill="none"/><path d="M183.79,404.55L187.78,408.54M183.79,408.54L187.78,404.55" stroke="#0000ff" stroke-width="1.1" fill="none"/><path d="M193.39,403.85L197.38,407.84M193.39,407.84L197.38,403.85" stroke="#0000ff" stroke-width="1.1" fill="none"/><path d="M203.00,402.90L206.99,406.89M203.00,406.89L206.99,402.90" stroke="#0000ff" stroke-width="1.1" fill="none"/><path d="M212.60,402.00L216.59,405.99M212.60,405.99L216.59,402.00" stroke="#0000ff" stroke-width="1.1" fill="none"/><path d="M222.21,401.42L226.20,405.41M222.21,405.41L226.20,401.42" stroke="#0000ff" stroke-width="1.1" fill="none"/><path d="M231.81,400.77L235.80,404.76M231.81,404.76L235.80,400.77" stroke="#0000ff" stroke-width="1.1" fill="none"/><path d="M241.42,399.82L245.41,403.81M241.42,403.81L245.41,399.82" stroke="#0000ff" stroke-width="1.1" fill="none"/><path d="M251.02,398.34L255.01,402.33M251.02,402.33L255.01,398.34" stroke="#0000ff" stroke-width="1.1" fill="none"/><path d="M260.62,396.36L264.62,400.35M260.62,400.35L264.62,396.36" stroke="#0000ff" stroke-width="1.1" fill="none"/><path d="M270.23,394.00L274.22,397.99M270.23,397.99L274.22,394.00" stroke="#0000ff" stroke-width="1.1" fill="none"/><path d="M279.84,383.56L283.83,387.55M279.84,387.55L283.83,383.56" stroke="#0000ff" stroke-width="1.1" fill="none"/><path d="M289.44,333.39L293.43,337.38M289.44,337.38L293.43,333.39" stroke="#0000ff" stroke-width="1.1" fill="none"/></g><rect x="30.50" y="406.50" width="3.2" height="3.2" fill="#0000ff"/><rect x="186.10" y="225.90" width="105.90" height="86.90" fill="#fff" stroke="#000" stroke-width="1"/><path d="M189.60,231.80H203.40" stroke="#cccccc" stroke-width="1.2" stroke-dasharray="4 2.4"/><text x="207.60" y="234.40" style="font-family:'Liberation Serif',serif;font-size:7.35px">graphene</text><path d="M189.60,244.20H203.40" stroke="#0000ff" stroke-width="1.4"/><text x="207.60" y="246.80" style="font-family:'Liberation Serif',serif;font-size:7.35px">borophene (τ = 1.21 10<tspan dy="-3" font-size="5.5px">-18</tspan><tspan dy="3">s)</tspan></text><path d="M189.60,256.60H203.40" stroke="#0000ff" stroke-width="1.4"/><rect x="189.30" y="254.70" width="3.80" height="3.80" fill="#0000ff"/><rect x="199.90" y="254.70" width="3.80" height="3.80" fill="#0000ff"/><text x="207.60" y="259.20" style="font-family:'Liberation Serif',serif;font-size:7.35px">borophene (τ = 1.21 10<tspan dy="-3" font-size="5.5px">-17</tspan><tspan dy="3">s)</tspan></text><path d="M189.60,269.00H203.40" stroke="#0000ff" stroke-width="1.4"/><circle cx="191.20" cy="269.00" r="1.90" fill="#0000ff"/><circle cx="201.80" cy="269.00" r="1.90" fill="#0000ff"/><text x="207.60" y="271.60" style="font-family:'Liberation Serif',serif;font-size:7.35px">borophene (τ = 1.21 10<tspan dy="-3" font-size="5.5px">-16</tspan><tspan dy="3">s)</tspan></text><path d="M189.60,281.40H203.40" stroke="#0000ff" stroke-width="1.4"/><path d="M188.83,283.18L193.58,283.18L191.20,278.79Z" fill="#0000ff"/><path d="M199.43,283.18L204.18,283.18L201.80,278.79Z" fill="#0000ff"/><text x="207.60" y="284.00" style="font-family:'Liberation Serif',serif;font-size:7.35px">borophene (τ = 1.21 10<tspan dy="-3" font-size="5.5px">-15</tspan><tspan dy="3">s)</tspan></text><path d="M189.60,293.80H203.40" stroke="#0000ff" stroke-width="1.4"/><path d="M188.83,292.02L193.58,292.02L191.20,296.41Z" fill="#0000ff"/><path d="M199.43,292.02L204.18,292.02L201.80,296.41Z" fill="#0000ff"/><text x="207.60" y="296.40" style="font-family:'Liberation Serif',serif;font-size:7.35px">borophene (τ = 1.21 10<tspan dy="-3" font-size="5.5px">-14</tspan><tspan dy="3">s)</tspan></text><path d="M189.60,306.20H203.40" stroke="#0000ff" stroke-width="1.4"/><path d="M189.21,304.21L193.20,308.20M189.21,308.20L193.20,304.21" stroke="#0000ff" stroke-width="1.1" fill="none"/><path d="M199.81,304.21L203.80,308.20M199.81,308.20L203.80,304.21" stroke="#0000ff" stroke-width="1.1" fill="none"/><text x="207.60" y="308.80" style="font-family:'Liberation Serif',serif;font-size:7.35px">borophene (τ = 1.21 10<tspan dy="-3" font-size="5.5px">-13</tspan><tspan dy="3">s)</tspan></text><path d="M32.10,408.10v-5.0M32.10,221.30v5.0M51.14,408.10v-3.0M51.14,221.30v3.0M70.17,408.10v-5.0M70.17,221.30v5.0M89.21,408.10v-3.0M89.21,221.30v3.0M108.24,408.10v-5.0M108.24,221.30v5.0M127.28,408.10v-3.0M127.28,221.30v3.0M146.31,408.10v-5.0M146.31,221.30v5.0M165.35,408.10v-3.0M165.35,221.30v3.0M184.39,408.10v-5.0M184.39,221.30v5.0M203.42,408.10v-3.0M203.42,221.30v3.0M222.46,408.10v-5.0M222.46,221.30v5.0M241.49,408.10v-3.0M241.49,221.30v3.0M260.53,408.10v-5.0M260.53,221.30v5.0M279.56,408.10v-3.0M279.56,221.30v3.0M298.60,408.10v-5.0M298.60,221.30v5.0M32.10,408.10h5.0M298.60,408.10h-5.0M32.10,392.53h3.0M298.60,392.53h-3.0M32.10,376.97h5.0M298.60,376.97h-5.0M32.10,361.40h3.0M298.60,361.40h-3.0M32.10,345.83h5.0M298.60,345.83h-5.0M32.10,330.27h3.0M298.60,330.27h-3.0M32.10,314.70h5.0M298.60,314.70h-5.0M32.10,299.13h3.0M298.60,299.13h-3.0M32.10,283.57h5.0M298.60,283.57h-5.0M32.10,268.00h3.0M298.60,268.00h-3.0M32.10,252.43h5.0M298.60,252.43h-5.0M32.10,236.87h3.0M298.60,236.87h-3.0M32.10,221.30h5.0M298.60,221.30h-5.0" stroke="#000" stroke-width="1" fill="none"/><rect x="32.10" y="221.30" width="266.50" height="186.80" fill="none" stroke="#000" stroke-width="1.3"/><g style="font-family:'Liberation Serif',serif;font-size:9.5px" fill="#000"><text x="32.10" y="417.90" text-anchor="middle">0</text><text x="70.17" y="417.90" text-anchor="middle">1</text><text x="108.24" y="417.90" text-anchor="middle">2</text><text x="146.31" y="417.90" text-anchor="middle">3</text><text x="184.39" y="417.90" text-anchor="middle">4</text><text x="222.46" y="417.90" text-anchor="middle">5</text><text x="260.53" y="417.90" text-anchor="middle">6</text><text x="298.60" y="417.90" text-anchor="middle">7</text><text x="29.30" y="411.60" text-anchor="end">0</text><text x="29.30" y="380.47" text-anchor="end">1</text><text x="29.30" y="349.33" text-anchor="end">2</text><text x="29.30" y="318.20" text-anchor="end">3</text><text x="29.30" y="287.07" text-anchor="end">4</text><text x="29.30" y="255.93" text-anchor="end">5</text><text x="29.30" y="224.80" text-anchor="end">6</text></g><text x="165.35" y="428.00" text-anchor="middle" style="font-family:'Liberation Serif',serif;font-size:11.3px">Energy of incident light (eV)</text><text transform="translate(17.50,314.20) rotate(-90)" text-anchor="middle" style="font-family:'Liberation Serif',serif;font-size:11.8px"><tspan font-size="13px">σ</tspan> (σ<tspan dy="3" font-size="8px">0</tspan><tspan dy="-3">=e</tspan><tspan dy="-6" font-size="8px">2</tspan><tspan dy="6">π/2h)</tspan></text><text x="0.3" y="226.6" style="font-family:'Liberation Serif',serif;font-size:13.2px">(c)</text><rect x="395.30" y="228.90" width="62.10" height="7.5" fill="url(#rb)"/><path d="M395.70,237.80V408.10M457.20,237.80V408.10" stroke="#505050" stroke-width="1.2" fill="none"/><g style="font-family:'Liberation Serif',serif;font-size:14.8px" fill="#000"><text x="388.40" y="250.40" text-anchor="end">IR</text><text x="426.45" y="250.40" text-anchor="middle">Visible</text><text x="459.40" y="250.40" text-anchor="start">UV</text></g><path d="M377.20,233.40H385.70M463.70,233.40H472.20" stroke="#000" stroke-width="1.1"/><path d="M373.70,233.40l4,-1.8v3.6zM475.70,233.40l-4,-1.8v3.6z" fill="#000"/><g clip-path="url(#cd)"><path d="M332.6,394.0L333.8,387.4L335.2,382.7L336.4,380.5L337.3,379.6L338.1,379.1L341.1,378.1L345.7,377.4L367.5,375.4L378.8,374.0L389.5,372.3L399.5,370.5L409.1,368.5L414.7,367.1L420.5,365.3L428.1,362.6L433.1,360.3L439.3,356.9L446.5,352.4L451.6,348.7L456.0,344.8L458.6,341.7L461.6,337.5L465.5,331.4L468.6,325.8L471.5,319.7L474.0,313.4L476.4,306.0L478.8,297.4L480.5,289.8L482.0,281.4L483.8,266.0L485.4,246.5L489.2,159.7L490.8,208.6L492.1,243.2L493.8,270.7L495.6,292.9L497.3,306.6L498.2,312.2L499.2,316.6L500.7,321.7L502.2,326.2L507.0,337.5L510.0,343.5L515.1,352.7L518.1,357.5L520.6,361.0L524.4,365.5L528.6,369.6L533.7,374.0L538.4,377.4L544.3,380.6L554.4,385.2L562.4,388.4L572.2,392.0L576.3,393.1L581.5,394.2L599.3,397.0" stroke="#cccccc" stroke-width="1.2" stroke-dasharray="4 2.4" fill="none"/><path d="M332.6,407.9L446.6,407.9L447.0,407.4L447.5,406.4L449.5,400.7L450.8,397.7L452.7,394.3L454.6,391.6L456.2,389.8L457.7,388.5L466.4,382.9L468.2,381.2L469.5,379.6L470.4,377.9L471.6,374.8L472.7,371.1L474.2,365.0L474.9,363.3L475.9,361.6L478.5,358.0L479.5,356.9L481.2,355.7L488.9,351.7L494.7,349.1L512.4,343.2L520.0,341.1L542.5,335.5L562.3,329.5L572.3,326.6L572.6,325.8L573.0,323.6L573.4,309.0L574.5,241.7L576.0,127.9L586.5,127.9L586.5,128.0L587.7,137.4L589.3,148.5L591.9,163.8L593.6,171.6L595.7,180.0L597.3,185.3L599.3,191.2" stroke="#00f000" stroke-width="1.2" fill="none" stroke-linejoin="round"/><path d="M332.6,405.9L446.6,405.9L447.0,405.4L447.5,404.4L449.5,398.7L450.8,395.7L452.7,392.3L454.6,389.6L456.2,387.8L457.7,386.5L466.4,380.9L468.2,379.2L469.5,377.6L470.4,375.9L471.6,372.8L472.7,369.1L474.2,363.0L474.9,361.3L475.9,359.6L478.5,356.0L479.5,354.9L481.2,353.7L488.9,349.7L494.7,347.1L512.4,341.2L520.0,339.1L542.5,333.6L562.3,327.5L572.3,324.6L572.6,323.9L573.0,321.6L573.4,307.0L576.0,127.9L586.7,127.9L589.9,150.3L592.1,162.7L595.8,178.4L597.3,183.6L599.3,189.3" stroke="#00f000" stroke-width="1.2" fill="none" stroke-linejoin="round"/><path d="M332.6,385.8L356.2,386.1L381.2,386.9L408.3,388.4L446.6,390.9L447.0,390.6L447.5,389.6L449.5,384.0L450.8,381.0L452.7,377.9L454.6,375.3L456.2,373.5L457.7,372.4L464.4,368.7L466.4,367.4L468.2,365.8L469.5,364.3L470.4,362.6L471.6,359.6L472.7,356.0L474.2,350.0L474.9,348.3L475.9,346.7L478.5,343.3L479.5,342.3L481.2,341.2L483.4,340.1L491.2,336.8L495.1,335.4L498.9,334.2L516.1,329.8L543.2,324.6L572.3,317.3L572.6,316.5L573.0,314.3L573.4,299.7L575.9,127.9L587.5,127.9L590.5,147.8L592.6,158.5L596.0,172.9L599.3,183.0" stroke="#00f000" stroke-width="1.2" fill="none" stroke-linejoin="round"/><path d="M332.6,184.9L333.3,185.2L334.0,186.0L335.5,189.1L337.0,194.5L338.6,202.2L341.4,219.0L347.5,261.0L350.5,280.5L353.8,299.3L357.2,315.3L360.6,329.0L364.2,340.8L368.1,351.3L372.3,360.3L375.0,365.0L377.7,369.2L380.7,373.1L383.8,376.7L387.3,380.0L390.8,383.0L394.7,385.7L398.8,388.2L403.2,390.4L408.0,392.4L413.2,394.3L418.8,395.9L424.9,397.4L431.5,398.7L446.5,400.9L446.9,400.7L447.4,399.8L449.6,393.9L450.9,391.1L452.8,388.0L454.6,385.6L456.2,383.9L457.7,382.8L464.2,379.3L466.4,378.0L468.2,376.5L469.5,374.9L470.4,373.2L471.5,370.4L472.7,366.6L474.2,360.5L474.9,358.9L475.9,357.2L478.5,353.8L479.5,352.8L481.1,351.7L483.3,350.6L490.9,347.2L498.4,344.5L516.0,339.5L543.1,333.5L572.4,325.1L573.0,322.2L573.4,307.5L576.0,127.9L586.6,127.9L589.8,150.5L592.0,163.1L593.7,170.8L595.8,179.2L597.3,184.5L599.3,190.1" stroke="#00f000" stroke-width="1.2" fill="none" stroke-linejoin="round"/><path d="M332.6,127.9L338.1,127.9L339.5,221.4L340.3,256.7L341.2,286.3L342.3,311.1L343.6,331.4L345.1,348.2L346.8,361.8L348.6,371.5L350.8,379.5L353.3,385.9L354.7,388.7L356.3,391.1L358.0,393.3L359.8,395.2L361.8,396.9L364.1,398.5L366.5,399.8L369.3,401.0L375.7,403.0L380.5,403.9L386.1,404.8L400.2,406.0L419.7,406.8L446.6,407.3L447.0,406.9L447.5,405.9L449.5,400.2L450.8,397.2L452.7,393.9L454.6,391.2L456.2,389.4L457.7,388.1L466.4,382.6L468.2,381.0L469.5,379.3L470.4,377.6L471.6,374.5L472.7,370.9L474.2,364.7L474.9,363.0L475.9,361.4L478.5,357.8L479.5,356.7L481.2,355.5L488.9,351.5L494.7,348.9L512.4,343.1L519.9,341.0L542.5,335.5L562.3,329.5L572.3,326.7L572.6,325.9L573.0,323.6L573.4,309.0L574.5,241.7L576.0,127.9L586.5,127.9L586.5,128.1L589.3,148.6L591.9,163.9L593.6,171.7L595.7,180.1L597.3,185.4L599.3,191.3" stroke="#00f000" stroke-width="1.2" fill="none" stroke-linejoin="round"/><path d="M332.6,127.9L334.4,127.9L334.9,231.4L335.6,299.2L336.5,343.9L337.1,359.9L337.8,372.3L338.5,381.0L339.5,387.9L340.6,393.3L342.1,397.4L343.8,400.5L346.1,402.8L348.9,404.5L352.6,405.7L356.4,406.4L361.2,406.9L375.4,407.6L400.6,407.9L446.6,408.0L447.0,407.6L447.5,406.6L449.5,400.9L450.8,397.8L452.7,394.5L454.6,391.8L456.2,389.9L457.7,388.7L466.4,383.1L468.2,381.4L469.5,379.8L470.4,378.1L471.6,374.9L472.7,371.3L474.2,365.2L474.9,363.4L475.9,361.8L478.5,358.2L479.5,357.1L481.2,355.9L488.9,351.9L494.7,349.3L512.4,343.4L520.0,341.3L542.5,335.7L562.3,329.7L572.3,326.8L572.6,326.1L573.0,323.8L573.4,309.2L574.5,241.9L576.0,127.9L586.5,127.9L589.5,149.8L591.9,164.1L593.6,171.8L595.7,180.2L597.3,185.6L599.3,191.4" stroke="#00f000" stroke-width="1.2" fill="none" stroke-linejoin="round"/><rect x="330.70" y="403.97" width="3.80" height="3.80" fill="#00f000"/><rect x="340.31" y="403.97" width="3.80" height="3.80" fill="#00f000"/><rect x="349.91" y="403.97" width="3.80" height="3.80" fill="#00f000"/><rect x="359.52" y="403.97" width="3.80" height="3.80" fill="#00f000"/><rect x="369.12" y="403.97" width="3.80" height="3.80" fill="#00f000"/><rect x="378.73" y="403.97" width="3.80" height="3.80" fill="#00f000"/><rect x="388.33" y="403.97" width="3.80" height="3.80" fill="#00f000"/><rect x="397.94" y="403.97" width="3.80" height="3.80" fill="#00f000"/><rect x="407.54" y="403.97" width="3.80" height="3.80" fill="#00f000"/><rect x="417.15" y="403.97" width="3.80" height="3.80" fill="#00f000"/><rect x="426.75" y="403.97" width="3.80" height="3.80" fill="#00f000"/><rect x="436.36" y="403.97" width="3.80" height="3.80" fill="#00f000"/><rect x="445.96" y="401.61" width="3.80" height="3.80" fill="#00f000"/><rect x="455.57" y="384.77" width="3.80" height="3.80" fill="#00f000"/><rect x="465.17" y="378.47" width="3.80" height="3.80" fill="#00f000"/><rect x="474.78" y="356.58" width="3.80" height="3.80" fill="#00f000"/><rect x="484.38" y="349.12" width="3.80" height="3.80" fill="#00f000"/><rect x="493.99" y="344.75" width="3.80" height="3.80" fill="#00f000"/><rect x="503.59" y="341.62" width="3.80" height="3.80" fill="#00f000"/><rect x="513.20" y="338.50" width="3.80" height="3.80" fill="#00f000"/><rect x="522.80" y="336.00" width="3.80" height="3.80" fill="#00f000"/><rect x="532.41" y="333.72" width="3.80" height="3.80" fill="#00f000"/><rect x="542.01" y="331.27" width="3.80" height="3.80" fill="#00f000"/><rect x="551.62" y="328.28" width="3.80" height="3.80" fill="#00f000"/><rect x="561.22" y="325.34" width="3.80" height="3.80" fill="#00f000"/><rect x="570.83" y="321.57" width="3.80" height="3.80" fill="#00f000"/><circle cx="332.60" cy="385.78" r="1.90" fill="#00f000"/><circle cx="342.21" cy="385.83" r="1.90" fill="#00f000"/><circle cx="351.81" cy="385.97" r="1.90" fill="#00f000"/><circle cx="361.42" cy="386.20" r="1.90" fill="#00f000"/><circle cx="371.02" cy="386.52" r="1.90" fill="#00f000"/><circle cx="380.63" cy="386.92" r="1.90" fill="#00f000"/><circle cx="390.23" cy="387.38" r="1.90" fill="#00f000"/><circle cx="399.84" cy="387.91" r="1.90" fill="#00f000"/><circle cx="409.44" cy="388.48" r="1.90" fill="#00f000"/><circle cx="419.05" cy="389.09" r="1.90" fill="#00f000"/><circle cx="428.65" cy="389.73" r="1.90" fill="#00f000"/><circle cx="438.25" cy="390.38" r="1.90" fill="#00f000"/><circle cx="447.86" cy="388.69" r="1.90" fill="#00f000"/><circle cx="457.47" cy="372.51" r="1.90" fill="#00f000"/><circle cx="467.07" cy="366.88" r="1.90" fill="#00f000"/><circle cx="476.68" cy="345.65" r="1.90" fill="#00f000"/><circle cx="486.28" cy="338.83" r="1.90" fill="#00f000"/><circle cx="495.89" cy="335.09" r="1.90" fill="#00f000"/><circle cx="505.49" cy="332.57" r="1.90" fill="#00f000"/><circle cx="515.10" cy="330.04" r="1.90" fill="#00f000"/><circle cx="524.70" cy="328.11" r="1.90" fill="#00f000"/><circle cx="534.31" cy="326.37" r="1.90" fill="#00f000"/><circle cx="543.91" cy="324.43" r="1.90" fill="#00f000"/><circle cx="553.52" cy="321.94" r="1.90" fill="#00f000"/><circle cx="563.12" cy="319.46" r="1.90" fill="#00f000"/><circle cx="572.73" cy="316.14" r="1.90" fill="#00f000"/><path d="M339.83,226.14L344.58,226.14L342.21,221.75Z" fill="#00f000"/><path d="M349.44,289.82L354.19,289.82L351.81,285.43Z" fill="#00f000"/><path d="M359.04,333.78L363.79,333.78L361.42,329.38Z" fill="#00f000"/><path d="M368.65,359.57L373.40,359.57L371.02,355.17Z" fill="#00f000"/><path d="M378.25,374.84L383.00,374.84L380.63,370.44Z" fill="#00f000"/><path d="M387.86,384.32L392.61,384.32L390.23,379.92Z" fill="#00f000"/><path d="M397.46,390.51L402.21,390.51L399.84,386.12Z" fill="#00f000"/><path d="M407.07,394.74L411.82,394.74L409.44,390.35Z" fill="#00f000"/><path d="M416.67,397.75L421.42,397.75L419.05,393.35Z" fill="#00f000"/><path d="M426.28,399.95L431.03,399.95L428.65,395.56Z" fill="#00f000"/><path d="M435.88,401.61L440.63,401.61L438.25,397.22Z" fill="#00f000"/><path d="M445.49,400.53L450.24,400.53L447.86,396.13Z" fill="#00f000"/><path d="M455.09,384.69L459.84,384.69L457.47,380.29Z" fill="#00f000"/><path d="M464.70,379.19L469.45,379.19L467.07,374.80Z" fill="#00f000"/><path d="M474.30,357.95L479.05,357.95L476.68,353.56Z" fill="#00f000"/><path d="M483.91,351.03L488.66,351.03L486.28,346.64Z" fill="#00f000"/><path d="M493.51,347.11L498.26,347.11L495.89,342.71Z" fill="#00f000"/><path d="M503.12,344.35L507.87,344.35L505.49,339.96Z" fill="#00f000"/><path d="M512.72,341.55L517.47,341.55L515.10,337.16Z" fill="#00f000"/><path d="M522.33,339.33L527.08,339.33L524.70,334.93Z" fill="#00f000"/><path d="M531.93,337.28L536.68,337.28L534.31,332.89Z" fill="#00f000"/><path d="M541.54,335.03L546.29,335.03L543.91,330.63Z" fill="#00f000"/><path d="M551.14,332.22L555.89,332.22L553.52,327.83Z" fill="#00f000"/><path d="M560.75,329.43L565.50,329.43L563.12,325.04Z" fill="#00f000"/><path d="M570.35,325.80L575.10,325.80L572.73,321.40Z" fill="#00f000"/><path d="M339.83,307.01L344.58,307.01L342.21,311.41Z" fill="#00f000"/><path d="M349.44,380.64L354.19,380.64L351.81,385.03Z" fill="#00f000"/><path d="M359.04,394.83L363.79,394.83L361.42,399.22Z" fill="#00f000"/><path d="M368.65,399.84L373.40,399.84L371.02,404.24Z" fill="#00f000"/><path d="M378.25,402.17L383.00,402.17L380.63,406.56Z" fill="#00f000"/><path d="M387.86,403.44L392.61,403.44L390.23,407.83Z" fill="#00f000"/><path d="M397.46,404.20L402.21,404.20L399.84,408.59Z" fill="#00f000"/><path d="M407.07,404.70L411.82,404.70L409.44,409.09Z" fill="#00f000"/><path d="M416.67,405.04L421.42,405.04L419.05,409.43Z" fill="#00f000"/><path d="M426.28,405.28L431.03,405.28L428.65,409.67Z" fill="#00f000"/><path d="M435.88,405.46L440.63,405.46L438.25,409.85Z" fill="#00f000"/><path d="M445.49,403.23L450.24,403.23L447.86,407.63Z" fill="#00f000"/><path d="M455.09,386.49L459.84,386.49L457.47,390.89Z" fill="#00f000"/><path d="M464.70,380.28L469.45,380.28L467.07,384.67Z" fill="#00f000"/><path d="M474.30,358.45L479.05,358.45L476.68,362.85Z" fill="#00f000"/><path d="M483.91,351.05L488.66,351.05L486.28,355.44Z" fill="#00f000"/><path d="M493.51,346.72L498.26,346.72L495.89,351.12Z" fill="#00f000"/><path d="M503.12,343.63L507.87,343.63L505.49,348.03Z" fill="#00f000"/><path d="M512.72,340.54L517.47,340.54L515.10,344.94Z" fill="#00f000"/><path d="M522.33,338.07L527.08,338.07L524.70,342.47Z" fill="#00f000"/><path d="M531.93,335.82L536.68,335.82L534.31,340.21Z" fill="#00f000"/><path d="M541.54,333.38L546.29,333.38L543.91,337.77Z" fill="#00f000"/><path d="M551.14,330.41L555.89,330.41L553.52,334.81Z" fill="#00f000"/><path d="M560.75,327.48L565.50,327.48L563.12,331.87Z" fill="#00f000"/><path d="M570.35,323.72L575.10,323.72L572.73,328.11Z" fill="#00f000"/><path d="M340.21,395.72L344.20,399.71M340.21,399.71L344.20,395.72" stroke="#00f000" stroke-width="1.1" fill="none"/><path d="M349.81,403.51L353.81,407.50M349.81,407.50L353.81,403.51" stroke="#00f000" stroke-width="1.1" fill="none"/><path d="M359.42,404.95L363.41,408.94M359.42,408.94L363.41,404.95" stroke="#00f000" stroke-width="1.1" fill="none"/><path d="M369.03,405.46L373.02,409.45M369.03,409.45L373.02,405.46" stroke="#00f000" stroke-width="1.1" fill="none"/><path d="M378.63,405.69L382.62,409.68M378.63,409.68L382.62,405.69" stroke="#00f000" stroke-width="1.1" fill="none"/><path d="M388.24,405.82L392.23,409.81M388.24,409.81L392.23,405.82" stroke="#00f000" stroke-width="1.1" fill="none"/><path d="M397.84,405.89L401.83,409.88M397.84,409.88L401.83,405.89" stroke="#00f000" stroke-width="1.1" fill="none"/><path d="M407.45,405.94L411.44,409.93M407.45,409.93L411.44,405.94" stroke="#00f000" stroke-width="1.1" fill="none"/><path d="M417.05,405.98L421.04,409.97M417.05,409.97L421.04,405.98" stroke="#00f000" stroke-width="1.1" fill="none"/><path d="M426.66,406.00L430.65,409.99M426.66,409.99L430.65,406.00" stroke="#00f000" stroke-width="1.1" fill="none"/><path d="M436.26,406.02L440.25,410.01M436.26,410.01L440.25,406.02" stroke="#00f000" stroke-width="1.1" fill="none"/><path d="M445.87,403.67L449.86,407.66M445.87,407.66L449.86,403.67" stroke="#00f000" stroke-width="1.1" fill="none"/><path d="M455.47,386.83L459.46,390.82M455.47,390.82L459.46,386.83" stroke="#00f000" stroke-width="1.1" fill="none"/><path d="M465.08,380.54L469.07,384.53M465.08,384.53L469.07,380.54" stroke="#00f000" stroke-width="1.1" fill="none"/><path d="M474.68,358.66L478.67,362.65M474.68,362.65L478.67,358.66" stroke="#00f000" stroke-width="1.1" fill="none"/><path d="M484.29,351.20L488.28,355.19M484.29,355.19L488.28,351.20" stroke="#00f000" stroke-width="1.1" fill="none"/><path d="M493.89,346.83L497.88,350.82M493.89,350.82L497.88,346.83" stroke="#00f000" stroke-width="1.1" fill="none"/><path d="M503.50,343.71L507.49,347.70M503.50,347.70L507.49,343.71" stroke="#00f000" stroke-width="1.1" fill="none"/><path d="M513.10,340.59L517.09,344.58M513.10,344.58L517.09,340.59" stroke="#00f000" stroke-width="1.1" fill="none"/><path d="M522.71,338.09L526.70,342.08M522.71,342.08L526.70,338.09" stroke="#00f000" stroke-width="1.1" fill="none"/><path d="M532.31,335.82L536.30,339.81M532.31,339.81L536.30,335.82" stroke="#00f000" stroke-width="1.1" fill="none"/><path d="M541.92,333.36L545.91,337.35M541.92,337.35L545.91,333.36" stroke="#00f000" stroke-width="1.1" fill="none"/><path d="M551.52,330.38L555.51,334.37M551.52,334.37L555.51,330.38" stroke="#00f000" stroke-width="1.1" fill="none"/><path d="M561.13,327.43L565.12,331.42M561.13,331.42L565.12,327.43" stroke="#00f000" stroke-width="1.1" fill="none"/><path d="M570.73,323.66L574.72,327.65M570.73,327.65L574.72,323.66" stroke="#00f000" stroke-width="1.1" fill="none"/></g><rect x="331.00" y="406.50" width="3.2" height="3.2" fill="#00f000"/><rect x="486.60" y="225.90" width="105.90" height="86.90" fill="#fff" stroke="#000" stroke-width="1"/><path d="M490.10,231.80H503.90" stroke="#cccccc" stroke-width="1.2" stroke-dasharray="4 2.4"/><text x="508.10" y="234.40" style="font-family:'Liberation Serif',serif;font-size:7.35px">graphene</text><path d="M490.10,244.20H503.90" stroke="#00f000" stroke-width="1.4"/><text x="508.10" y="246.80" style="font-family:'Liberation Serif',serif;font-size:7.35px">borophene (τ = 1.21 10<tspan dy="-3" font-size="5.5px">-18</tspan><tspan dy="3">s)</tspan></text><path d="M490.10,256.60H503.90" stroke="#00f000" stroke-width="1.4"/><rect x="489.80" y="254.70" width="3.80" height="3.80" fill="#00f000"/><rect x="500.40" y="254.70" width="3.80" height="3.80" fill="#00f000"/><text x="508.10" y="259.20" style="font-family:'Liberation Serif',serif;font-size:7.35px">borophene (τ = 1.21 10<tspan dy="-3" font-size="5.5px">-17</tspan><tspan dy="3">s)</tspan></text><path d="M490.10,269.00H503.90" stroke="#00f000" stroke-width="1.4"/><circle cx="491.70" cy="269.00" r="1.90" fill="#00f000"/><circle cx="502.30" cy="269.00" r="1.90" fill="#00f000"/><text x="508.10" y="271.60" style="font-family:'Liberation Serif',serif;font-size:7.35px">borophene (τ = 1.21 10<tspan dy="-3" font-size="5.5px">-16</tspan><tspan dy="3">s)</tspan></text><path d="M490.10,281.40H503.90" stroke="#00f000" stroke-width="1.4"/><path d="M489.33,283.18L494.08,283.18L491.70,278.79Z" fill="#00f000"/><path d="M499.93,283.18L504.68,283.18L502.30,278.79Z" fill="#00f000"/><text x="508.10" y="284.00" style="font-family:'Liberation Serif',serif;font-size:7.35px">borophene (τ = 1.21 10<tspan dy="-3" font-size="5.5px">-15</tspan><tspan dy="3">s)</tspan></text><path d="M490.10,293.80H503.90" stroke="#00f000" stroke-width="1.4"/><path d="M489.33,292.02L494.08,292.02L491.70,296.41Z" fill="#00f000"/><path d="M499.93,292.02L504.68,292.02L502.30,296.41Z" fill="#00f000"/><text x="508.10" y="296.40" style="font-family:'Liberation Serif',serif;font-size:7.35px">borophene (τ = 1.21 10<tspan dy="-3" font-size="5.5px">-14</tspan><tspan dy="3">s)</tspan></text><path d="M490.10,306.20H503.90" stroke="#00f000" stroke-width="1.4"/><path d="M489.71,304.21L493.70,308.20M489.71,308.20L493.70,304.21" stroke="#00f000" stroke-width="1.1" fill="none"/><path d="M500.31,304.21L504.30,308.20M500.31,308.20L504.30,304.21" stroke="#00f000" stroke-width="1.1" fill="none"/><text x="508.10" y="308.80" style="font-family:'Liberation Serif',serif;font-size:7.35px">borophene (τ = 1.21 10<tspan dy="-3" font-size="5.5px">-13</tspan><tspan dy="3">s)</tspan></text><path d="M332.60,408.10v-5.0M332.60,221.30v5.0M351.65,408.10v-3.0M351.65,221.30v3.0M370.70,408.10v-5.0M370.70,221.30v5.0M389.75,408.10v-3.0M389.75,221.30v3.0M408.80,408.10v-5.0M408.80,221.30v5.0M427.85,408.10v-3.0M427.85,221.30v3.0M446.90,408.10v-5.0M446.90,221.30v5.0M465.95,408.10v-3.0M465.95,221.30v3.0M485.00,408.10v-5.0M485.00,221.30v5.0M504.05,408.10v-3.0M504.05,221.30v3.0M523.10,408.10v-5.0M523.10,221.30v5.0M542.15,408.10v-3.0M542.15,221.30v3.0M561.20,408.10v-5.0M561.20,221.30v5.0M580.25,408.10v-3.0M580.25,221.30v3.0M599.30,408.10v-5.0M599.30,221.30v5.0M332.60,408.10h5.0M599.30,408.10h-5.0M332.60,392.53h3.0M599.30,392.53h-3.0M332.60,376.97h5.0M599.30,376.97h-5.0M332.60,361.40h3.0M599.30,361.40h-3.0M332.60,345.83h5.0M599.30,345.83h-5.0M332.60,330.27h3.0M599.30,330.27h-3.0M332.60,314.70h5.0M599.30,314.70h-5.0M332.60,299.13h3.0M599.30,299.13h-3.0M332.60,283.57h5.0M599.30,283.57h-5.0M332.60,268.00h3.0M599.30,268.00h-3.0M332.60,252.43h5.0M599.30,252.43h-5.0M332.60,236.87h3.0M599.30,236.87h-3.0M332.60,221.30h5.0M599.30,221.30h-5.0" stroke="#000" stroke-width="1" fill="none"/><rect x="332.60" y="221.30" width="266.70" height="186.80" fill="none" stroke="#000" stroke-width="1.3"/><g style="font-family:'Liberation Serif',serif;font-size:9.5px" fill="#000"><text x="332.60" y="417.90" text-anchor="middle">0</text><text x="370.70" y="417.90" text-anchor="middle">1</text><text x="408.80" y="417.90" text-anchor="middle">2</text><text x="446.90" y="417.90" text-anchor="middle">3</text><text x="485.00" y="417.90" text-anchor="middle">4</text><text x="523.10" y="417.90" text-anchor="middle">5</text><text x="561.20" y="417.90" text-anchor="middle">6</text><text x="599.30" y="417.90" text-anchor="middle">7</text><text x="329.80" y="411.60" text-anchor="end">0</text><text x="329.80" y="380.47" text-anchor="end">1</text><text x="329.80" y="349.33" text-anchor="end">2</text><text x="329.80" y="318.20" text-anchor="end">3</text><text x="329.80" y="287.07" text-anchor="end">4</text><text x="329.80" y="255.93" text-anchor="end">5</text><text x="329.80" y="224.80" text-anchor="end">6</text></g><text x="465.95" y="428.00" text-anchor="middle" style="font-family:'Liberation Serif',serif;font-size:11.3px">Energy of incident light (eV)</text><text transform="translate(318.00,314.20) rotate(-90)" text-anchor="middle" style="font-family:'Liberation Serif',serif;font-size:11.8px"><tspan font-size="13px">σ</tspan> (σ<tspan dy="3" font-size="8px">0</tspan><tspan dy="-3">=e</tspan><tspan dy="-6" font-size="8px">2</tspan><tspan dy="6">π/2h)</tspan></text><text x="304.3" y="226.6" style="font-family:'Liberation Serif',serif;font-size:13.2px">(d)</text></svg></body></html>
